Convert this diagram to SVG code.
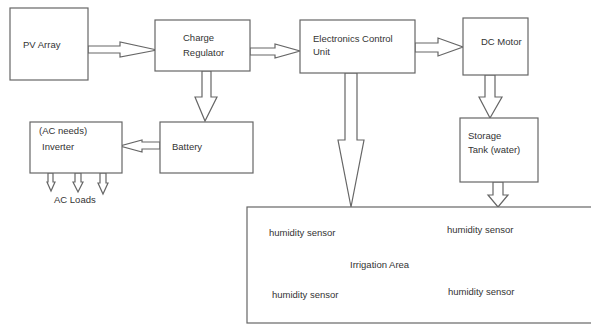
<svg xmlns="http://www.w3.org/2000/svg" width="591" height="327" viewBox="0 0 591 327">
<style>
.box{fill:#fff;stroke:#666;stroke-width:1.2}
.arr{fill:#fff;stroke:#666;stroke-width:1.2;stroke-linejoin:miter}
text{font-family:"Liberation Sans",Arial,sans-serif;font-size:9.5px;fill:#333}
</style>
<rect width="591" height="327" fill="#fff"/>
<g id="connectors">
<polygon class="arr" points="88,46 120,46 120,42 157,50 120,57 120,53 88,53"/>
<polygon class="arr" points="250,48 275,48 275,44 300,51 275,58 275,55 250,55"/>
<polygon class="arr" points="415,43 438,43 438,38 463,47 438,56 438,52 415,52"/>
<polygon class="arr" points="485,75 495,75 495,97 502,97 490,118 479,97 485,97"/>
<polygon class="arr" points="202,71 211,71 211,97 217,97 205,121 195,97 202,97"/>
<polygon class="arr" points="160,142 142,142 142,140 120,146 142,152 142,149 160,149"/>
<polygon class="arr" points="345,73 357,73 357,140 364,140 351,207 338,140 345,140"/>
<polygon class="arr" points="493,182 503,182 503,195 508,195 498,207 488,195 493,195"/>
<polygon class="arr" points="48,173 53,173 53,182 55,182 51,191 47,182 48,182"/>
<polygon class="arr" points="75,173 81,173 81,182 83,182 78,192 73,182 75,182"/>
<polygon class="arr" points="100,173 106,173 106,183 108,183 103,194 98,183 100,183"/>
</g>
<g id="pv"><rect class="box" x="10" y="8" width="78" height="72"/><text x="23" y="48">PV Array</text></g>
<g id="charge"><rect class="box" x="155" y="20" width="95" height="51"/><text x="183" y="41">Charge</text><text x="183" y="56">Regulator</text></g>
<g id="ecu"><rect class="box" x="300" y="20" width="115" height="53"/><text x="313" y="42">Electronics Control</text><text x="313" y="55">Unit</text></g>
<g id="dcmotor"><rect class="box" x="463" y="18" width="65" height="57"/><text x="481" y="45">DC Motor</text></g>
<g id="battery"><rect class="box" x="160" y="122" width="93" height="51"/><text x="172" y="150">Battery</text></g>
<g id="inverter"><rect class="box" x="30" y="122" width="92" height="51"/><text x="39" y="134">(AC needs)</text><text x="42" y="150">Inverter</text></g>
<g id="acloads"><text x="54" y="203">AC Loads</text></g>
<g id="storage"><rect class="box" x="460" y="118" width="78" height="64"/><text x="468" y="139">Storage</text><text x="468" y="153">Tank (water)</text></g>
<g id="irrigation"><rect class="box" x="247" y="207" width="360" height="116"/>
<text x="269" y="236">humidity sensor</text>
<text x="447" y="233">humidity sensor</text>
<text x="350" y="268">Irrigation Area</text>
<text x="272" y="298">humidity sensor</text>
<text x="448" y="295">humidity sensor</text>
</g>
</svg>
